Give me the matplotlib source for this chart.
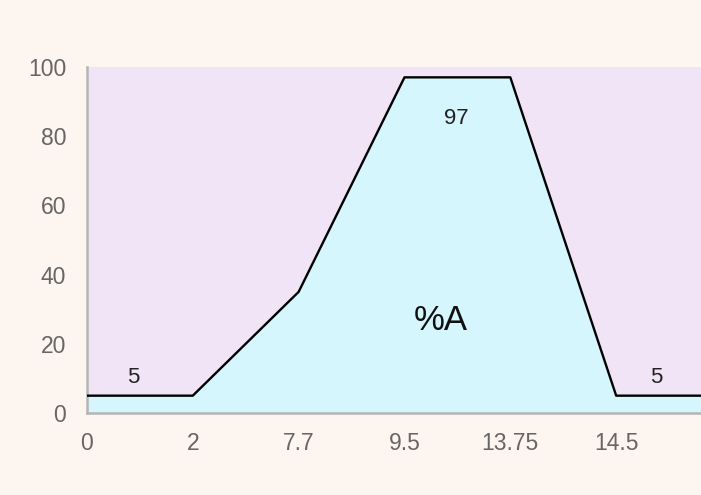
import numpy as np
import matplotlib
matplotlib.use("Agg")
import matplotlib.pyplot as plt

plt.rcParams["font.family"] = ["Liberation Sans", "DejaVu Sans"]

# categorical x axis (evenly spaced), last category is cut off at the right edge
cats = ["0", "2", "7.7", "9.5", "13.75", "14.5", ""]
vals = [5, 5, 35, 97, 97, 5, 5]
# (x position in category units, y, text)
seg_labels = [(0.435, 10.2, "5"), (3.49, 85.2, "97"), (5.38, 10.2, "5")]

fig = plt.figure(figsize=(7.01, 4.95), dpi=100, facecolor="#fdf5f0")
ax = fig.add_axes([0.124, 0.1657, 0.906, 0.6990])
ax.set_facecolor("#f1e4f7")

x = np.arange(len(cats))
ax.fill_between(x, 0, vals, color="#d4f6fc", zorder=1)
ax.plot(x, vals, color="black", lw=1.7, zorder=3)

for xi, yi, txt in seg_labels:
    ax.text(xi, yi, txt, ha="center", va="center", fontsize=16, color="#222222")
ax.text(3.34, 26.8, "%A", ha="center", va="center", fontsize=25, color="#111111")

ax.set_xlim(0, len(cats) - 1)
ax.set_ylim(0, 100)
ax.set_xticks(x)
ax.set_xticklabels(cats)
ax.set_yticks([0, 20, 40, 60, 80, 100])
ax.tick_params(length=0, labelsize=16.5, colors="#666666")
ax.tick_params(axis="x", pad=14)
ax.tick_params(axis="y", pad=15)
for s in ["top", "right"]:
    ax.spines[s].set_visible(False)
for s in ["left", "bottom"]:
    ax.spines[s].set_color("#b5b5b5")
    ax.spines[s].set_linewidth(1.8)

fig.savefig("out.png", dpi=100, facecolor=fig.get_facecolor())
